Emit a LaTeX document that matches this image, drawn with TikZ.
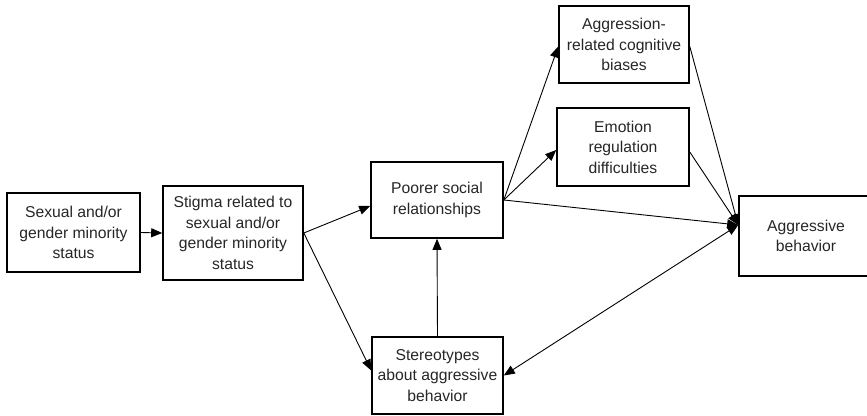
\documentclass[tikz,border=0pt]{standalone}
\usepackage{fontspec}
\setmainfont{Liberation Sans}
\usetikzlibrary{arrows.meta,calc}
\tikzset{
  box/.style={draw, line width=1.6pt, align=center, inner sep=0pt,
    font=\fontsize{15.7}{20.5}\selectfont, text=black!85},
  arr/.style={line width=0.9pt, -{Triangle[length=11pt,width=9pt]}},
  darr/.style={line width=0.9pt, {Triangle[length=11pt,width=9pt]}-{Triangle[length=11pt,width=9pt]}},
}
\begin{document}
\begin{tikzpicture}[x=1pt,y=-1pt]
\useasboundingbox (0,0) rectangle (867,415);
\node[box, minimum width=133pt, minimum height=79pt] (s1) at (73.5,232.5) {Sexual and/or\\gender minority\\status};
\node[box, minimum width=140pt, minimum height=94pt] (s2) at (233,233) {Stigma related to\\sexual and/or\\gender minority\\status};
\node[box, minimum width=132pt, minimum height=76pt] (s3) at (437,200) {Poorer social\\relationships};
\node[box, minimum width=130pt, minimum height=77pt] (s4) at (624,44.5) {Aggression-\\related cognitive\\biases};
\node[box, minimum width=132pt, minimum height=78pt] (s5) at (623,147) {Emotion\\regulation\\difficulties};
\node[box, minimum width=134pt, minimum height=80pt] (s6) at (806,236) {Aggressive\\behavior};
\node[box, minimum width=131pt, minimum height=77pt] (s7) at (437.5,375.5) {Stereotypes\\about aggressive\\behavior};
\coordinate (t6) at ($(s6.west)+(0,-11)$);
\draw[arr] (s1.east) -- (s2.west);
\draw[arr] (s2.east) -- ($(s3.west)+(0,6)$);
\draw[arr] (s2.east) -- ($(s7.west)+(0,-5)$);
\draw[arr] (s3.east) -- ($(s4.west)+(0,2)$);
\draw[arr] (s3.east) -- ($(s5.west)+(0,3)$);
\draw[arr] (s3.east) -- (t6);
\draw[arr] ($(s4.east)+(0,2)$) -- (t6);
\draw[arr] ($(s5.east)+(0,5)$) -- (t6);
\draw[darr] (s7.east) -- (t6);
\draw[arr] (s7.north) -- (s3.south);
\end{tikzpicture}
\end{document}
